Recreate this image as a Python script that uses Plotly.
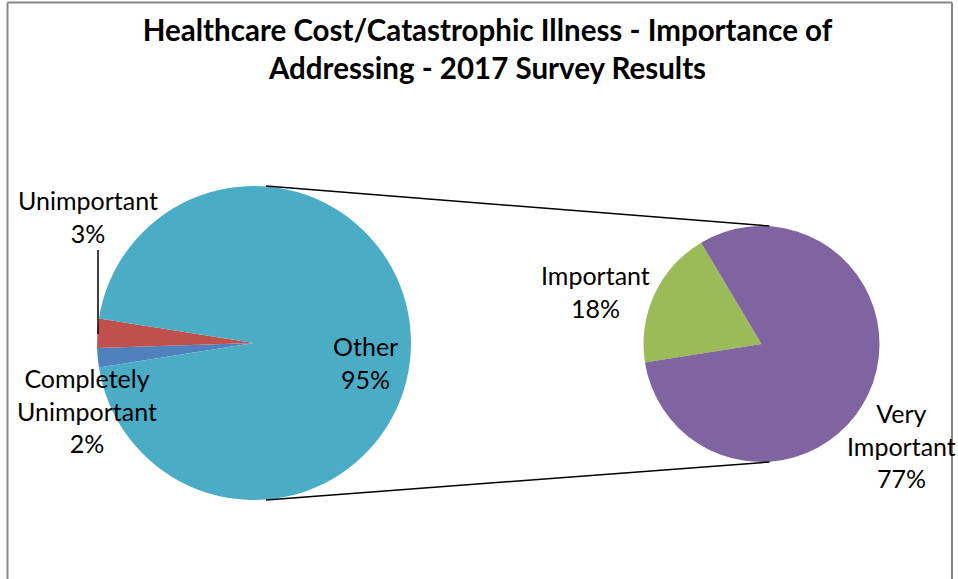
import plotly.graph_objects as go

W, H = 958, 579

# ---- data ----
main_labels = ["Completely<br>Unimportant", "Unimportant", "Other"]
main_values = [2, 3, 95]
main_colors = ["#4F81BD", "#C0504D", "#4BACC6"]

sub_labels = ["Important", "Very<br>Important"]
sub_values = [18, 77]
sub_colors = ["#9BBB59", "#8064A2"]

title_text = "Healthcare Cost/Catastrophic Illness - Importance of<br>Addressing - 2017 Survey Results"

# ---- layout geometry (pixels) ----
L_CX, L_CY, L_R = 254, 343, 157
R_CX, R_CY, R_R = 761.5, 344, 118


def px(x):
    return x / W


def py(y):
    return 1 - y / H


fig = go.Figure()
fig.add_trace(go.Pie(
    labels=main_labels, values=main_values, sort=False,
    direction="clockwise", rotation=261,
    marker=dict(colors=main_colors, line=dict(width=0)),
    textinfo="none", hoverinfo="label+value", showlegend=False,
    domain=dict(x=[px(L_CX - L_R), px(L_CX + L_R)], y=[py(L_CY + L_R), py(L_CY - L_R)]),
))
fig.add_trace(go.Pie(
    labels=sub_labels, values=sub_values, sort=False,
    direction="clockwise", rotation=261,
    marker=dict(colors=sub_colors, line=dict(width=0)),
    textinfo="none", hoverinfo="label+value", showlegend=False,
    domain=dict(x=[px(R_CX - R_R), px(R_CX + R_R)], y=[py(R_CY + R_R), py(R_CY - R_R)]),
))

font = dict(family="Lato, Calibri, sans-serif", size=25, color="#000000")

# label annotations built from the data
label_pos = {
    "main": [(87, 410), (88, 216), (365, 362)],
    "sub": [(595, 291), (901, 445)],
}
annotations = []
for lab, val, (x, y) in zip(main_labels, main_values, label_pos["main"]):
    annotations.append(dict(text=f"{lab}<br>{val}%", x=px(x), y=py(y), xref="paper", yref="paper",
                            showarrow=False, font=font, align="center", xanchor="center", yanchor="middle"))
for lab, val, (x, y) in zip(sub_labels, sub_values, label_pos["sub"]):
    annotations.append(dict(text=f"{lab}<br>{val}%", x=px(x), y=py(y), xref="paper", yref="paper",
                            showarrow=False, font=font, align="center", xanchor="center", yanchor="middle"))

line_black = dict(color="#000000", width=1.5)
shapes = [
    # series connector lines
    dict(type="line", xref="paper", yref="paper", x0=px(L_CX + 12), y0=py(L_CY - L_R), x1=px(R_CX + 8), y1=py(R_CY - R_R), line=line_black),
    dict(type="line", xref="paper", yref="paper", x0=px(L_CX + 12), y0=py(L_CY + L_R), x1=px(R_CX + 8), y1=py(R_CY + R_R), line=line_black),
    # leader line for "Unimportant"
    dict(type="line", xref="paper", yref="paper", x0=px(98), y0=py(250), x1=px(98), y1=py(334), line=line_black),
    # chart border
    dict(type="line", xref="paper", yref="paper", x0=px(7.5), y0=py(2.5), x1=px(7.5), y1=py(600), line=dict(color="#878787", width=2)),
    dict(type="line", xref="paper", yref="paper", x0=px(7.5), y0=py(2.5), x1=px(952), y1=py(2.5), line=dict(color="#878787", width=2)),
    dict(type="line", xref="paper", yref="paper", x0=px(952), y0=py(2.5), x1=px(952), y1=py(600), line=dict(color="#878787", width=2)),
]

fig.update_layout(
    width=W, height=H, autosize=False,
    margin=dict(l=0, r=0, t=0, b=0),
    paper_bgcolor="#FFFFFF", plot_bgcolor="#FFFFFF",
    title=dict(text=f"<b>{title_text}</b>", x=px(487.5), y=py(41), xanchor="center", yanchor="middle",
               font=dict(family="Lato, Calibri, sans-serif", size=29.5, color="#000000")),
    annotations=annotations,
    shapes=shapes,
)

fig.write_html("out.html", config={"displayModeBar": False},
               post_script="document.body.style.margin='0';document.body.style.overflow='hidden';")
